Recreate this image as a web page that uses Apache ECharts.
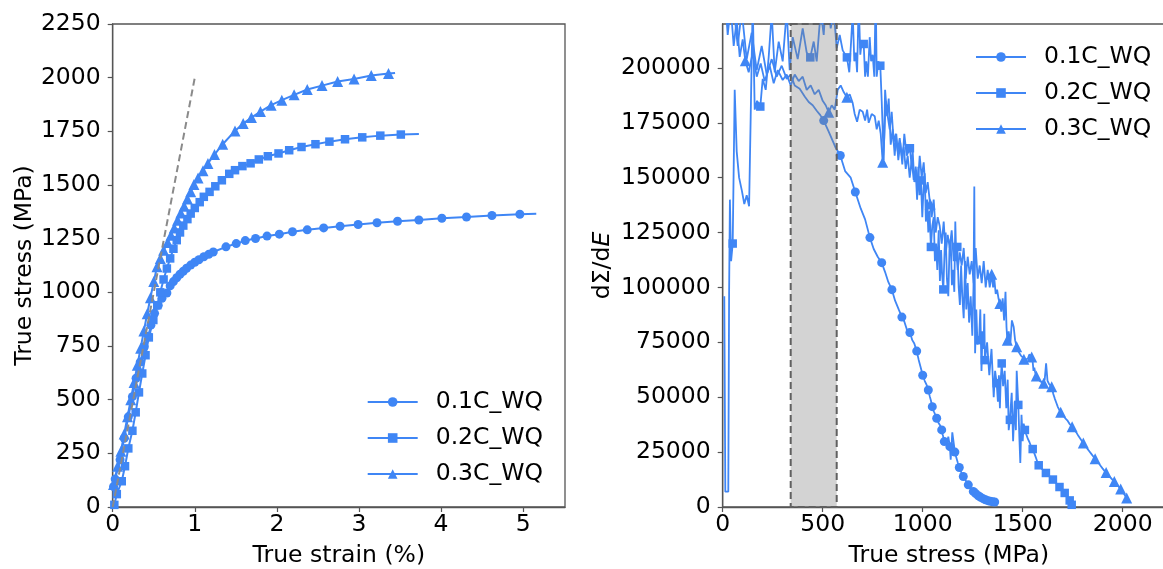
<!DOCTYPE html>
<html><head><meta charset="utf-8">
<script src="https://cdn.jsdelivr.net/npm/echarts@6/dist/echarts.min.js"></script>
<style>html,body{margin:0;padding:0;background:#fff}#c{width:1163px;height:569px}</style>
</head><body><div id="c"></div>
<script>
// ---------- data ----------
const seriesNames = ['0.1C_WQ', '0.2C_WQ', '0.3C_WQ'];
const strainTicks = [0, 1, 2, 3, 4, 5];
const stressTicks = [0, 250, 500, 750, 1000, 1250, 1500, 1750, 2000, 2250];
const rateStressTicks = [0, 500, 1000, 1500, 2000];
const rateTicks = [0, 25000, 50000, 75000, 100000, 125000, 150000, 175000, 200000];
const elasticLine = [[0, 0], [1, 2000]];
const shadedStress = [340, 570];

// left: true strain (%), true stress (MPa)
const curve01 = [[0.01,95],[0.03,130],[0.09,220],[0.14,320],[0.19,420],[0.24,514],[0.285,600],[0.335,675],[0.385,746],[0.435,796],[0.465,847],[0.51,902],[0.555,940],[0.6,972],[0.66,997],[0.70,1030],[0.74,1050],[0.78,1068],[0.82,1084],[0.86,1098],[0.90,1112],[0.95,1127],[1.00,1140],[1.05,1152],[1.11,1166],[1.17,1177],[1.225,1188],[1.38,1212],[1.505,1227],[1.615,1241],[1.74,1251],[1.88,1262],[2.03,1271],[2.19,1282],[2.37,1291],[2.57,1300],[2.77,1308],[2.99,1316],[3.22,1324],[3.47,1331],[3.73,1337],[4.01,1345],[4.31,1351],[4.62,1358],[4.96,1364],[5.16,1366]];
const curve02 = [[0.02,10],[0.05,60],[0.11,120],[0.15,190],[0.19,273],[0.24,355],[0.28,441],[0.32,534],[0.36,622],[0.40,707],[0.44,790],[0.495,871],[0.543,940],[0.58,1000],[0.62,1060],[0.66,1111],[0.70,1158],[0.74,1203],[0.78,1243],[0.82,1279],[0.86,1311],[0.91,1341],[0.95,1367],[1.00,1393],[1.06,1420],[1.11,1445],[1.18,1468],[1.25,1494],[1.33,1522],[1.42,1552],[1.49,1569],[1.58,1588],[1.68,1601],[1.78,1619],[1.89,1634],[2.02,1647],[2.15,1662],[2.30,1677],[2.47,1690],[2.64,1702],[2.83,1713],[3.04,1722],[3.26,1730],[3.51,1735],[3.73,1738]];
const curve03 = [[0.01,105],[0.06,190],[0.10,260],[0.14,340],[0.18,420],[0.22,500],[0.26,580],[0.30,660],[0.34,740],[0.38,820],[0.42,900],[0.46,975],[0.50,1050],[0.54,1119],[0.58,1158],[0.62,1196],[0.67,1232],[0.71,1266],[0.75,1300],[0.79,1336],[0.83,1370],[0.87,1401],[0.91,1435],[0.95,1468],[0.99,1502],[1.04,1533],[1.10,1566],[1.16,1600],[1.24,1642],[1.34,1690],[1.49,1752],[1.59,1786],[1.69,1814],[1.80,1842],[1.93,1872],[2.06,1895],[2.21,1920],[2.37,1945],[2.55,1963],[2.74,1982],[2.94,1994],[3.15,2010],[3.36,2019],[3.44,2022]];

// right: true stress (MPa), dSigma/dE.
// "Lead" samples carry no marker; every group starts with a marked sample.
const rate01Lead = [[15,240000],[30,222000],[50,232000],[75,210000],[95,226000],[120,204000],[145,216000],[170,199000],[195,210000],[220,197000],[245,204000],[270,196000],[295,201000],[320,195000],[340,197000],[360,192000],[385,190500],[410,187000],[430,184500],[450,183000],[470,180500],[488,178500]];
const rate01 = [
  [[505,176000],[530,171000],[563,164000]], [[588,160100],[612,153000],[640,150000]], [[663,143500],[690,136000],[712,131000]],
  [[736,122700],[755,117500],[775,114000]], [[795,111300],[812,107000],[828,102500]], [[846,99000],[862,94000],[880,90000]],
  [[896,86500],[908,84500],[922,80500]], [[936,79500],[948,76000],[958,74500]], [[970,71000],[980,67000],[990,63500]],
  [[1000,60000],[1010,57500],[1020,55500]], [[1028,53300],[1035,50500],[1041,48500]], [[1048,45700],[1056,43500],[1063,42000]],
  [[1070,40400],[1078,38500],[1088,37000]], [[1095,35100],[1100,33000],[1104,31500]], [[1108,29800],[1120,28500],[1128,32000]],
  [[1136,27500],[1140,21500],[1148,34000]], [[1161,25000],[1168,22500],[1176,20000]], [[1183,18000],[1190,16500],[1196,15000]],
  [[1203,13900],[1212,12500],[1220,11200]], [[1228,10100],[1237,9000],[1245,8000]], [[1253,7100],[1257,6700],[1261,6400]],
  [[1265,6100],[1270,5700],[1274,5400]], [[1278,5100],[1282,4900],[1286,4600]], [[1290,4400],[1294,4200],[1298,4000]],
  [[1302,3800],[1306,3600],[1310,3450]], [[1314,3300],[1318,3150],[1322,3000]], [[1326,2900],[1330,2800],[1334,2700]],
  [[1338,2600],[1342,2530],[1346,2460]], [[1350,2400],[1354,2350],[1357,2320]], [[1360,2300]]
];
const rate02Lead = [[8,96000],[13,7000],[28,7000],[32,97000],[36,140000],[42,112000]];
const rate02 = [
  [[50,120000],[60,190000],[70,162000],[82,150000],[96,144000],[108,138000],[120,142000],[132,137000],[140,178000],[150,230000],[160,181000],[172,185000]],
  [[188,182400],[200,195000],[215,190000],[230,205000],[245,225000],[260,198000],[280,212000],[300,203000],[320,226000],[335,199000],[350,214000],[375,204000],[400,218000],[420,207000]],
  [[438,204800],[455,212000],[470,203000],[490,226000],[505,215000],[520,236000],[540,218000],[555,226000],[570,209000],[585,215000],[600,208000]],
  [[621,204800],[633,198000],[642,212000],[650,225000],[658,203000],[665,207000],[672,198000],[680,230000],[688,206000],[695,212000]],
  [[705,210900],[712,196000],[718,203000],[726,196000],[735,214000],[742,203000],[750,206000],[758,196000],[765,235000],[770,196000],[778,203000]],
  [[788,201000],[795,185000],[805,158000],[812,190000],[822,178000],[830,186000],[840,165000],[850,172000],[860,160000],[868,170000],[878,158000],[888,166000],[898,156000],[908,170000],[920,160000]],
  [[936,163400],[945,155000],[950,162000],[958,148000],[965,153000],[972,140000],[978,155000],[984,142000]],
  [[991,148750],[998,132000],[1004,145000],[1010,152000],[1016,130000],[1022,140000],[1028,125000],[1034,135000]],
  [[1041,118450],[1048,128000],[1055,132000],[1061,112000],[1067,120000],[1073,108000],[1080,126000],[1086,103000],[1092,117000],[1097,106000]],
  [[1103,99100],[1110,118000],[1115,125000],[1121,104000],[1128,96000],[1134,118000],[1140,122000],[1146,101000],[1152,108000],[1158,98000],[1163,130000],[1168,112000]],
  [[1173,118450],[1180,100000],[1186,92000],[1192,110000],[1198,96000],[1205,86000],[1212,112000],[1218,90000],[1225,102000],[1232,84000],[1240,96000],[1248,78000],[1254,100000],[1258,146000],[1262,70000],[1268,90000],[1274,74000]],
  [[1282,76000],[1288,90000],[1294,62000],[1299,80000],[1304,72000],[1308,88000]],
  [[1311,66900],[1322,75000],[1333,60000],[1344,72000],[1355,50000],[1362,62000]],
  [[1370,56400],[1376,48000],[1381,60000],[1386,45000],[1390,58000],[1393,62000]],
  [[1395,65400],[1402,55000],[1410,62000],[1418,45000],[1425,58000],[1430,35000]],
  [[1436,39700],[1445,52000],[1452,30000],[1460,48000],[1466,35000],[1470,62000]],
  [[1478,46500],[1484,30000],[1488,20000],[1494,42000],[1500,30000],[1505,38000]],
  [[1511,35100],[1518,33000],[1526,31000],[1534,29500],[1540,28000],[1545,27000]],
  [[1550,26400],[1556,25000],[1562,23500],[1568,22000],[1572,20800],[1576,19800]],
  [[1580,19000],[1586,18300],[1593,17600],[1600,17000],[1606,16400],[1611,15900]],
  [[1616,15500],[1622,15000],[1629,14400],[1636,13800],[1642,13300],[1647,12900]],
  [[1651,12500],[1657,11900],[1664,11200],[1670,10500],[1676,9900],[1680,9500]],
  [[1684,9100],[1689,8600],[1694,8100],[1699,7500],[1703,7000],[1707,6700]],
  [[1710,6400],[1715,5800],[1720,5100],[1725,4400],[1729,3800],[1732,3400]],
  [[1735,3000],[1737,2500],[1739,2000],[1741,1600],[1743,1300],[1744,1100]],
  [[1745,1000]]
];
const rate03Lead = [[10,235000],[25,215000],[40,228000],[55,210000],[70,222000],[85,205000],[100,213000]];
const rate03 = [
  [[113,203300],[130,198000],[150,207000],[170,196000],[190,202000],[210,194000],[235,201000],[255,193000],[275,199000],[300,194500],[320,197000],[340,192000],[360,197000],[380,194000],[400,196000],[420,190000],[440,192000],[460,188000],[480,190000],[500,185000],[515,183000]],
  [[530,179800],[545,183000],[560,181000],[575,190000],[590,192000],[605,189000]],
  [[621,186600],[635,188000],[650,184000],[660,179000],[672,175500],[685,181000],[700,180000],[712,176000],[722,181000],[730,175000],[745,179000],[760,178000],[770,172000],[780,176000],[790,170000]],
  [[800,157000],[808,168000],[815,185000],[825,178000],[835,172000],[845,180000],[855,166000],[865,170000],[875,162000],[885,168000],[895,160000],[905,164000],[915,154000],[925,160000],[935,150000],[945,158000],[955,149000],[965,155000],[975,146000],[985,160000],[995,150000],[1005,157000],[1015,143000],[1025,148000]],
  [[1037,138000],[1045,132000],[1055,140000],[1065,125000],[1075,132000],[1085,128000],[1095,120000],[1105,130000],[1115,115000],[1125,124000],[1135,118000],[1145,126000],[1155,112000],[1165,120000],[1175,108000],[1185,116000],[1195,110000],[1205,118000],[1215,104000],[1225,114000],[1235,106000],[1245,112000],[1255,102000],[1265,118000],[1275,104000],[1285,110000],[1295,102000],[1305,112000],[1315,100000],[1325,108000],[1335,100000]],
  [[1345,106000],[1352,100000],[1358,104000],[1365,97000],[1372,99000],[1379,95000]],
  [[1386,92700],[1393,89000],[1400,95000],[1407,85000],[1414,98000],[1419,82000]],
  [[1423,76000],[1430,80000],[1438,74000],[1446,85000],[1455,82000],[1462,76000]],
  [[1470,73000],[1477,71000],[1484,70000],[1491,69000],[1497,68500],[1502,68000]],
  [[1506,67300],[1513,67000],[1520,66500],[1527,67800],[1533,69500],[1539,68800]],
  [[1545,68300],[1550,66000],[1554,62000],[1558,63500],[1562,61500],[1565,60500]],
  [[1568,59700],[1575,58500],[1582,57800],[1588,57200],[1594,57000],[1599,56700]],
  [[1605,56400],[1610,58000],[1617,65400],[1624,57500],[1632,56000],[1639,55500]],
  [[1645,54800],[1653,51500],[1660,49500],[1668,47500],[1676,45500],[1683,44200]],
  [[1690,43200],[1700,42000],[1712,40500],[1723,39500],[1733,38000],[1740,37200]],
  [[1747,36600],[1757,35300],[1768,34000],[1779,32300],[1789,31000],[1796,30000]],
  [[1803,29100],[1813,28000],[1823,26600],[1833,25400],[1843,24200],[1853,23000]],
  [[1862,22000],[1871,21000],[1881,19800],[1890,18700],[1899,17600],[1908,16600]],
  [[1917,15700],[1925,14900],[1932,14200],[1939,13400],[1946,12700],[1952,12100]],
  [[1958,11600],[1964,11000],[1970,10300],[1976,9700],[1981,9100],[1986,8600]],
  [[1990,8200],[1995,7500],[2001,6700],[2007,5900],[2012,5100],[2016,4600]],
  [[2020,4100],[2024,3500],[2028,3000]]
];

// ---------- styling ----------
const BLUE = '#3f86f5';
const FONT = 'DejaVu Sans';
const FS = 23.5;
const AXC = '#555';
const symbols = ['circle', 'rect', 'triangle'];
const symSizes = [9, 8.5, 11];

function leftData(arr) {
  return arr.map((p, i) => i === arr.length - 1 ? { value: p, symbol: 'none' } : { value: p });
}
function rightData(lead, groups) {
  const out = lead.map(p => ({ value: p, symbol: 'none' }));
  groups.forEach(g => g.forEach((p, i) => out.push(i === 0 ? { value: p } : { value: p, symbol: 'none' })));
  return out;
}
const numFmt = v => String(v);

function xAx(gridIndex, max, ticks, name, gap) {
  return {
    type: 'value', gridIndex, min: 0, max, name, nameLocation: 'middle', nameGap: gap,
    nameTextStyle: { fontFamily: FONT, fontSize: FS, color: '#000' },
    axisLine: { show: true, onZero: false, lineStyle: { color: AXC, width: 1.3 } },
    axisTick: { show: true, length: 5, inside: false, customValues: ticks, lineStyle: { color: AXC, width: 1.2 } },
    axisLabel: { customValues: ticks, fontFamily: FONT, fontSize: FS, color: '#000', margin: 6, formatter: numFmt },
    splitLine: { show: false }
  };
}
function yAx(gridIndex, max, ticks, name, gap, rich) {
  return {
    type: 'value', gridIndex, min: 0, max, name, nameLocation: 'middle', nameGap: gap, nameRotate: 90,
    nameTextStyle: Object.assign({ fontFamily: FONT, fontSize: FS, color: '#000' }, rich ? { rich } : {}),
    axisLine: { show: true, onZero: false, lineStyle: { color: AXC, width: 1.3 } },
    axisTick: { show: true, length: 5, inside: false, customValues: ticks, lineStyle: { color: AXC, width: 1.2 } },
    axisLabel: { customValues: ticks, fontFamily: FONT, fontSize: FS, color: '#000', margin: 12, formatter: numFmt },
    splitLine: { show: false }
  };
}

const leftCurves = [curve01, curve02, curve03];
const rightCurves = [[rate01Lead, rate01], [rate02Lead, rate02], [rate03Lead, rate03]];

const series = [];
series.push({
  type: 'line', xAxisIndex: 0, yAxisIndex: 0, data: elasticLine, symbol: 'none', silent: true,
  lineStyle: { color: '#8a8a8a', width: 2, type: [7, 4] }, z: 4
});
leftCurves.forEach((c, k) => series.push({
  type: 'line', name: seriesNames[k], xAxisIndex: 0, yAxisIndex: 0, data: leftData(c),
  symbol: symbols[k], symbolSize: symSizes[k], showAllSymbol: true,
  lineStyle: { color: BLUE, width: 2 }, itemStyle: { color: BLUE, borderWidth: 0 }, z: 3
}));
rightCurves.forEach((c, k) => series.push({
  type: 'line', name: seriesNames[k], xAxisIndex: 1, yAxisIndex: 1, data: rightData(c[0], c[1]),
  symbol: symbols[k], symbolSize: symSizes[k], showAllSymbol: true, clip: true,
  lineStyle: { color: BLUE, width: 1.8 }, itemStyle: { color: BLUE, borderWidth: 0 }, z: 3
}));
series.push({
  type: 'custom', xAxisIndex: 1, yAxisIndex: 1, data: [shadedStress], encode: { x: [0, 1] }, z: 10, silent: true,
  renderItem: (params, api) => {
    const a = api.coord([api.value(0), 220000]);
    const b = api.coord([api.value(1), 0]);
    return { type: 'rect', shape: { x: a[0], y: a[1], width: b[0] - a[0], height: b[1] - a[1] },
      style: { fill: 'rgba(128,128,128,0.35)', stroke: '#606060', lineWidth: 2, lineDash: [7, 4] } };
  }
});

const legendCommon = {
  data: seriesNames, orient: 'vertical', itemWidth: 50, itemHeight: 12, itemGap: 12, padding: 0,
  textStyle: { fontFamily: FONT, fontSize: FS, color: '#000', lineHeight: 20, padding: [0, 0, 0, 13] },
  selectedMode: false
};

const gridCommon = { top: 24, width: 452.3, height: 483, show: true, borderColor: AXC, borderWidth: 1.3, containLabel: false, outerBoundsMode: 'none' };

const option = {
  animation: false,
  backgroundColor: '#fff',
  grid: [
    Object.assign({ left: 112.7 }, gridCommon),
    Object.assign({ left: 722.7 }, gridCommon)
  ],
  xAxis: [
    xAx(0, 5.51, strainTicks, 'True strain (%)', 37),
    xAx(1, 2261.5, rateStressTicks, 'True stress (MPa)', 37)
  ],
  yAxis: [
    yAx(0, 2250, stressTicks, 'True stress (MPa)', 75),
    yAx(1, 220000, rateTicks, '{n|dΣ/d}{i|E}', 108, {
      n: { fontFamily: FONT, fontSize: FS, color: '#000' },
      i: { fontFamily: FONT, fontSize: FS, color: '#000', fontStyle: 'italic' }
    })
  ],
  legend: [
    Object.assign({ left: 366.7, top: 390 }, legendCommon),
    Object.assign({ left: 975, top: 45 }, legendCommon)
  ],
  series
};

const chart = echarts.init(document.getElementById('c'), null, { renderer: 'canvas' });
chart.setOption(option);
</script>
</body></html>
